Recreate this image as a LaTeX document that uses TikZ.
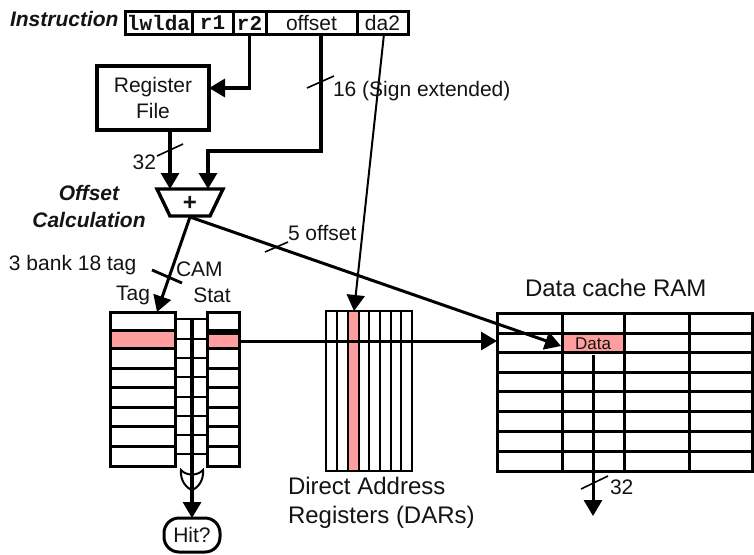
\documentclass[tikz,border=0pt]{standalone}
\usepackage{fontspec}
\setmainfont{Liberation Sans}
\newfontfamily\monobf{Liberation Mono}
\usetikzlibrary{arrows.meta,calc}
\definecolor{pinkfill}{RGB}{255,158,158}
\definecolor{ink}{RGB}{20,20,20}
\tikzset{
  x=1pt,y=-1pt,
  every node/.style={inner sep=0pt,outer sep=0pt,text=ink},
  lab/.style={font=\fontsize{21}{24}\selectfont},
  labbig/.style={font=\fontsize{24}{27}\selectfont},
  labi/.style={font=\fontsize{21}{24}\selectfont\bfseries\itshape},
  monolab/.style={font=\fontsize{21}{24}\monobf\bfseries},
  field/.style={draw=black,line width=3pt,minimum height=23pt,anchor=center},
  wire/.style={draw=black,line width=3.4pt},
  thinwire/.style={draw=black,line width=2pt},
  sig/.style={wire,-{Triangle[width=18pt,length=16pt]}},
  sigthin/.style={thinwire,-{Triangle[width=18pt,length=16pt]}},
  tick/.style={draw=black,line width=1.6pt},
  tickthick/.style={draw=black,line width=2.8pt},
  cell/.style={draw=black,line width=3pt},
  thincell/.style={draw=black,line width=2pt},
}
\begin{document}
\begin{tikzpicture}
\useasboundingbox (0,0) rectangle (754,554);
\fill[white] (0,0) rectangle (754,554);
% instruction
\node[labi,anchor=west] (instr) at (10,19) {Instruction};
\node[field,monolab,minimum width=67pt] (lwlda) at (158.5,23) {lwlda};
\node[field,monolab,minimum width=41pt] (rone) at (212.5,23) {r1};
\node[field,monolab,minimum width=33pt] (rtwo) at (249.5,23) {r2};
\node[field,lab,minimum width=91pt] (offset) at (311.5,23) {offset};
\node[field,lab,minimum width=51pt] (datwo) at (382.5,23) {da2};
% register file
\node[draw=black,line width=3.4pt,minimum width=112pt,minimum height=64pt,align=center,lab] (regfile) at (153,98) {Register\\[2pt]File};
% adder
\draw[draw=black,line width=3.4pt] (157,189) -- (223,189) -- (210,216) -- (170,216) -- cycle;
\node[font=\fontsize{24}{24}\selectfont\bfseries] (plus) at (190,203) {+};
\coordinate (addA) at (170,189);
\coordinate (addB) at (208,189);
\coordinate (addOut) at (190,217);
\coordinate (regOut) at (170,130);
\node[labi,align=center] (offcalc) at (89,206.5) {Offset\\[3pt]Calculation};
% tag, stat
\fill[pinkfill] (110,331) rectangle (175,348);
\fill[pinkfill] (207,333) rectangle (239,347);
\foreach \yy in {330,348,368,387,407,426,446}{
  \draw[cell] (110,\yy) -- (175,\yy);
  \draw[cell] (207,\yy) -- (239,\yy);
}
\draw[cell] (207,333) -- (239,333);
\node[cell,minimum width=65pt,minimum height=154pt] (tagbox) at (142.5,389) {};
\node[cell,minimum width=32pt,minimum height=154pt] (statbox) at (223,389) {};
\foreach \yy in {319,339,358,377,397,416,435,454}{
  \draw[thincell] (175,\yy) -- (207,\yy);
}
\node[lab,anchor=center] (taglab) at (133,295) {Tag};
\node[lab,anchor=center] (statlab) at (212,295) {Stat};
\node[lab,anchor=west] (camlab) at (176,269) {CAM};
\node[lab,anchor=west] (banklab) at (9,265) {3 bank 18 tag};
% OR gate and hit
\coordinate (ladtop) at (192,319);
\node[draw=black,line width=3pt,rounded corners=15pt,minimum width=56pt,minimum height=34pt,lab] (hit) at (192,535) {Hit?};
\draw[line width=2pt] (181,470) .. controls (186,476) and (198,476) .. (203,470)
  .. controls (204,480) and (198,488) .. (192,490)
  .. controls (186,488) and (180,480) .. (181,470) -- cycle;
\draw[sig] (ladtop) -- (hit.north);
% DARs
\fill[pinkfill] (349,311) rectangle (359,471);
\node[draw=black,line width=2pt,minimum width=86pt,minimum height=160pt] (dars) at (369,391) {};
\foreach \xx/\ww in {337/2.2,348/2.2,359/2,369/2.2,380/1.4,391/1.8,401/2.2}{
  \draw[draw=black,line width=\ww pt] (\xx,311) -- (\xx,471);
}
\node[labbig,align=left,anchor=west] (darlab) at (288,503) {Direct Address\\[2pt]Registers (DARs)};
% data RAM
\fill[pinkfill] (563,335) rectangle (623,351);
\foreach \yy in {333,352,372,391,411,431,451}{
  \draw[cell] (497,\yy) -- (752,\yy);
}
\foreach \xx in {562,624,689}{
  \draw[cell] (\xx,313) -- (\xx,471);
}
\node[cell,minimum width=255pt,minimum height=158pt] (ram) at (624.5,392) {};
\node[font=\fontsize{17}{19}\selectfont] (datacell) at (593,344) {Data};
\node[labbig,anchor=west] (ramlab) at (525,288) {Data cache RAM};
\coordinate (ramIn) at (497,341);
\coordinate (dataTip) at (561,346);
\coordinate (dataOut) at (593,355);
\coordinate (dataEnd) at (593,516);
\node[lab,anchor=west] (lab32b) at (610,487) {32};
% connectors
\draw[sig] (rtwo.south) |- (regfile.east |- 0,88);
\draw[sig] (offset.south -| 321,0) |- (208,151) -- (addB);
\draw[sig] (regOut) -- (addA);
\draw[sigthin] (384,34) -- (dars.north -| 354,0);
\draw[sig,line width=3pt] (addOut) -- (tagbox.north -| 157,0);
\draw[sig,line width=3pt] (addOut) -- (dataTip);
\draw[sig,line width=3pt] (statbox.east |- 0,341) -- (ramIn);
\draw[sig,line width=3pt] (dataOut) -- (dataEnd);
% ticks and labels
\draw[tick] (307,88) -- (334,76);
\node[lab,anchor=west] (lab16) at (333,91) {16 (Sign extended)};
\draw[tick] (157,156) -- (183,144);
\node[lab,anchor=east] (lab32a) at (156,162) {32};
\draw[tick] (265,252) -- (288,242);
\node[lab,anchor=west] (lab5) at (288,233) {5 offset};
\draw[tickthick] (152,270) -- (182,283);
\draw[tick] (581,489) -- (608,476);
\end{tikzpicture}
\end{document}
